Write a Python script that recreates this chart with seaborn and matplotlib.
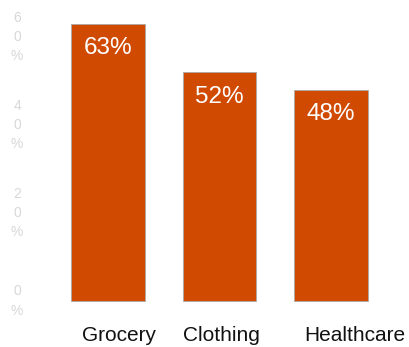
import matplotlib
matplotlib.use("Agg")
import matplotlib.pyplot as plt
import seaborn as sns
import pandas as pd

categories = ["Grocery", "Clothing", "Healthcare"]
values = [63, 52, 48]
value_labels = ["63%", "52%", "48%"]
tick_values = [0, 20, 40, 60]
tick_labels = ["0%", "20%", "40%", "60%"]

sns.set_theme(style="white")
plt.rcParams['font.family'] = ['Liberation Sans', 'DejaVu Sans']

df = pd.DataFrame({"category": categories, "value": values})

fig = plt.figure(figsize=(4.10, 3.47), dpi=100)
ax = fig.add_axes([0, 0, 1, 1])
sns.barplot(data=df, x="category", y="value", color="#D04A02", saturation=1,
            width=0.655, edgecolor="#a8a8a8", linewidth=0.6, ax=ax)

ax.set_xlim(-108 / 111.5, (410 - 108) / 111.5)
ax.set_ylim((301 - 347) / 4.4, 301 / 4.4)
ax.axis("off")

for i, (v, lab) in enumerate(zip(values, value_labels)):
    ax.text(i, v - 5.6, lab, ha="center", va="center", color="white", fontsize=17.5)

label_offsets = [11.5 / 111.5, 1.5 / 111.5, 23.5 / 111.5]
for i, (c, off) in enumerate(zip(categories, label_offsets)):
    ax.text(i + off, -7.9, c, ha="center", va="center", color="#111111", fontsize=15)

for tv, tl in zip(tick_values, tick_labels):
    ax.text(-91 / 111.5, tv, "\n".join(tl), ha="center", va="center",
            color="#d8d8d8", fontsize=10, linespacing=1.5)

fig.savefig("out.png", dpi=100)
